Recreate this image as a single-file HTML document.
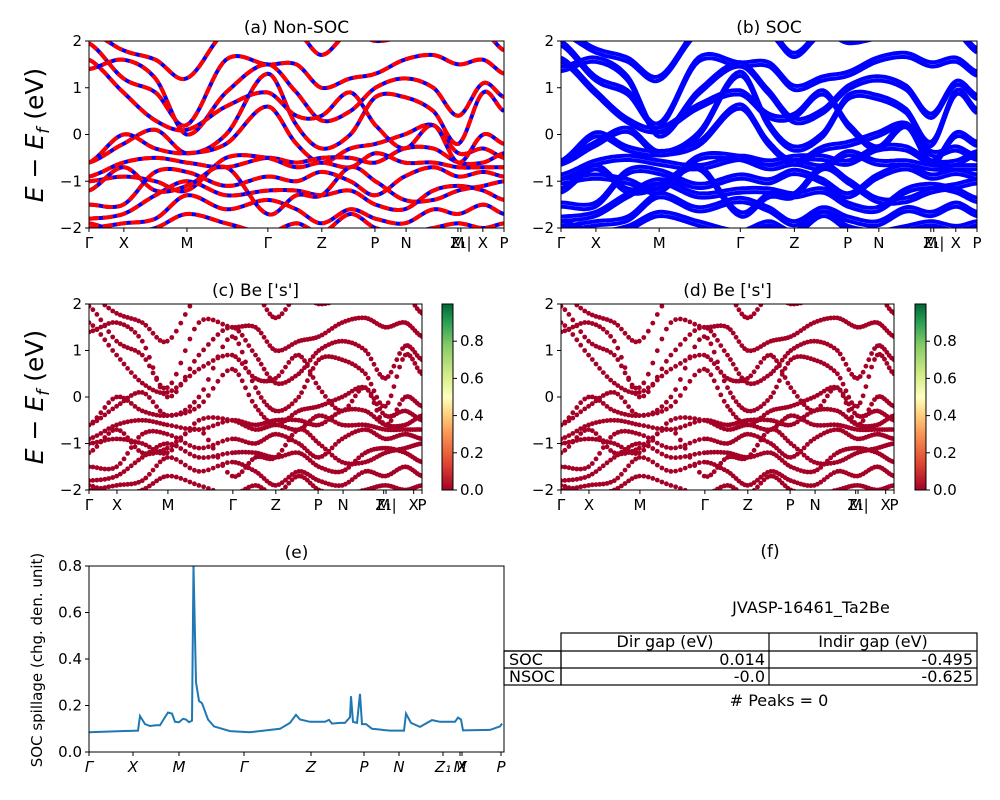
<!DOCTYPE html>
<html><head><meta charset="utf-8">
<style>
body{margin:0;background:#fff;}
svg{display:block;font-family:"DejaVu Sans","Liberation Sans",sans-serif;}
</style></head>
<body>
<svg id="fig" width="1000" height="800" viewBox="0 0 1000 800" xmlns="http://www.w3.org/2000/svg">
<defs>
<linearGradient id="rdylgn" x1="0" y1="1" x2="0" y2="0">
<stop offset="0" stop-color="#a50026"/><stop offset="0.15" stop-color="#e04a33"/>
<stop offset="0.3" stop-color="#f99455"/><stop offset="0.42" stop-color="#fed884"/>
<stop offset="0.5" stop-color="#ffffbf"/><stop offset="0.62" stop-color="#d3ec87"/>
<stop offset="0.78" stop-color="#84ca66"/><stop offset="0.9" stop-color="#2aa054"/>
<stop offset="1" stop-color="#006837"/>
</linearGradient>
<clipPath id="ca"><rect x="89" y="41" width="415" height="187"/></clipPath>
<clipPath id="cb"><rect x="561" y="41" width="416" height="187"/></clipPath>
<clipPath id="cc"><rect x="89" y="304" width="333" height="186"/></clipPath>
<clipPath id="cd"><rect x="561" y="304" width="333" height="186"/></clipPath>
</defs>
</svg>
<script>
// ---- data ----
const kGrid = [0,0.083,0.16,0.235,0.33,0.43,0.5,0.56,0.63,0.69,0.76,0.83,0.89,0.95,1.0];
const band1 = [1.95,1.2,0.9,0.2,1.6,1.5,1.5,1.0,1.2,1.3,1.6,1.7,1.5,1.6,1.3];
const band2 = [1.4,1.6,1.2,0.0,0.9,1.5,0.9,0.3,0.5,1.0,1.2,1.0,0.4,1.1,0.8];
const band3 = [-0.6,-0.2,0.1,-0.4,0.0,1.3,0.2,-0.3,0.0,0.8,0.8,0.5,-0.2,0.9,0.5];
const band4 = [-0.6,0.0,-0.3,-0.4,-0.2,0.6,-0.2,-0.6,-0.3,-0.2,0.0,0.2,-0.4,-0.3,-0.5];
const band5 = [-0.9,-0.6,-0.5,-0.6,-0.7,-0.5,-0.6,-0.5,-0.5,-0.6,-0.3,-0.3,-0.6,-0.6,-0.4];
const band6 = [-1.0,-0.9,-1.0,-1.2,-0.5,-0.5,-0.7,-0.6,-0.7,-0.4,-0.6,-0.6,-0.7,-0.7,-0.7];
const band7 = [-1.5,-1.5,-0.8,-0.8,-1.1,-0.9,-1.0,-0.8,-1.0,-1.3,-0.9,-0.7,-0.9,-0.8,-0.9];
const band8 = [-1.8,-1.7,-1.3,-1.0,-1.3,-1.2,-1.2,-1.3,-1.2,-1.5,-1.6,-1.2,-1.1,-1.2,-1.4];
const band9 = [-2.0,-1.9,-1.8,-1.3,-1.6,-1.4,-1.6,-1.9,-1.6,-1.8,-1.9,-1.6,-1.7,-1.5,-1.7];
const band10 = [-1.2,-0.7,-1.2,-1.1,-0.7,-1.7,-1.3,-1.3,-0.7,-1.0,-1.4,-1.4,-1.2,-1.1,-1.0];
const band11 = [1.6,0.9,0.3,0.1,0.6,0.9,0.4,0.4,0.9,0.2,-0.3,0.2,-0.6,0.0,-0.2];
const band12 = [-1.9,-2.1,-2.0,-1.7,-1.9,-2.1,-1.9,-2.1,-1.7,-2.0,-2.1,-2.0,-1.9,-2.0,-1.9];
const band13 = [2.2,1.8,1.6,1.2,2.2,2.1,2.2,1.7,2.2,2.0,2.1,2.2,2.1,2.2,1.8];
const bands = [band1,band2,band3,band4,band5,band6,band7,band8,band9,band10,band11,band12,band13];
const bandTicksTop = [0,0.084,0.236,0.431,0.561,0.689,0.764,0.889,0.896,0.949,1];
const bandTickLabelsTop = ["Γ","X","M","Γ","Z","P","N","M","Z₁|","X","P"];
const bandTicksMid = [0,0.084,0.237,0.432,0.561,0.688,0.763,0.885,0.892,0.975,1];
const bandTickLabelsMid = ["Γ","X","M","Γ","Z","P","N","M","Z₁|","X","P"];
const eTicks = [-2,-1,0,1,2];
const cbarTicks = [0.0,0.2,0.4,0.6,0.8];
const spillK = [0,49,51,56,61,67,71,76,79,83,86,90,94,97,100,103,104.5,107,110,113,119,125,141,161,191,201,207,211,221,236,240,243,251,256,261,262,264,268,271,273,277,283,301,315,317,322,331,343,351,366,369,372,374,401,411,413];
const spillVal = [0.085,0.092,0.155,0.12,0.112,0.115,0.115,0.15,0.17,0.165,0.13,0.128,0.143,0.14,0.128,0.135,0.8,0.3,0.22,0.21,0.14,0.11,0.09,0.085,0.1,0.125,0.16,0.14,0.13,0.13,0.138,0.122,0.125,0.125,0.15,0.24,0.13,0.125,0.25,0.12,0.12,0.1,0.092,0.092,0.165,0.125,0.108,0.137,0.13,0.13,0.148,0.14,0.093,0.095,0.11,0.122];
const spillTicks = [0,0.2,0.4,0.6,0.8];
const spillKTicks = [0,44,90,155,222,275,310,354,371,373,412];
const spillKLabels = ["Γ","X","M","Γ","Z","P","N","Z₁","M","X","P"];

// ---- helpers ----
const NS="http://www.w3.org/2000/svg";
const fig=document.getElementById('fig');
function mk(tag,attrs,parent){const e=document.createElementNS(NS,tag);for(const k in attrs)e.setAttribute(k,attrs[k]);(parent||fig).appendChild(e);return e;}
function txt(s,x,y,size,anchor,parent,extra){const t=mk('text',Object.assign({x:x,y:y,'font-size':size,'text-anchor':anchor||'middle',fill:'#000'},extra||{}),parent);t.textContent=s;return t;}
function sample(vals,n){const out=[];const m=kGrid.length;
 for(let i=0;i<m-1;i++){const p0=vals[Math.max(i-1,0)],p1=vals[i],p2=vals[i+1],p3=vals[Math.min(i+2,m-1)];
  const k0=kGrid[i],k1=kGrid[i+1];
  for(let j=0;j<n;j++){const t=j/n;const t2=t*t,t3=t2*t;
   const v=0.5*((2*p1)+(-p0+p2)*t+(2*p0-5*p1+4*p2-p3)*t2+(-p0+3*p1-3*p2+p3)*t3);
   out.push([k0+(k1-k0)*t,v]);}}
 out.push([1,vals[m-1]]);return out;}

function bandPanel(P){
 const g=mk('g',{},fig);
 
 
 const sx=k=>P.x+k*P.w, sy=e=>P.y+(2-e)/4*P.h;
 const inner=mk('g',{'clip-path':'url(#'+P.clip+')'},g);
 bands.forEach((b,bi)=>{
  if(P.mode==='dots'){
   const pts=sample(b,7);
   pts.forEach(p=>{const c=mk('circle',{cx:sx(p[0]).toFixed(1),cy:sy(p[1]).toFixed(1),r:2.4,fill:'#a50026'},inner);
    
    });
  } else {
   const offs=P.mode==='soc'?[0.045,-0.045]:[0];
   offs.forEach(o=>{
    const pts=sample(b.map(v=>v+o),12);
    const d='M'+pts.map(p=>sx(p[0]).toFixed(1)+','+sy(p[1]).toFixed(1)).join('L');
    const l=mk('path',{d:d,fill:'none',stroke:'#0000ff','stroke-width':4},inner);
    
    
    if(P.mode==='nsoc'){const r=mk('path',{d:d,fill:'none',stroke:'#ff0000','stroke-width':4,'stroke-dasharray':'10 4'},inner);
     
     }
   });
  }
 });
 mk('rect',{x:P.x,y:P.y,width:P.w,height:P.h,fill:'none',stroke:'#000','stroke-width':1},g);
 eTicks.forEach(e=>{const y=sy(e);mk('line',{x1:P.x-4,x2:P.x,y1:y,y2:y,stroke:'#000'},g);
  const t=txt(e===0?'0':(e<0?'−'+(-e):''+e),P.x-7,y+5,15,'end',g);
  
  });
 P.ticks.forEach((k,i)=>{const x=sx(k);mk('line',{x1:x,x2:x,y1:P.y+P.h,y2:P.y+P.h+4,stroke:'#000'},g);
  const t=txt(P.labels[i],x,P.y+P.h+20,15,'middle',g);
  
  });
 const tt=txt(P.title,P.x+P.w/2,P.y-8,17,'middle',g);
 
 
}
bandPanel({name:'panel-a-nonsoc',x:89,y:41,w:415,h:187,clip:'ca',mode:'nsoc',ticks:bandTicksTop,labels:bandTickLabelsTop,title:'(a) Non-SOC'});
bandPanel({name:'panel-b-soc',x:561,y:41,w:416,h:187,clip:'cb',mode:'soc',ticks:bandTicksTop,labels:bandTickLabelsTop,title:'(b) SOC'});
bandPanel({name:'panel-c-be-s',x:89,y:304,w:333,h:186,clip:'cc',mode:'dots',ticks:bandTicksMid,labels:bandTickLabelsMid,title:"(c)  Be ['s']"});
bandPanel({name:'panel-d-be-s',x:561,y:304,w:333,h:186,clip:'cd',mode:'dots',ticks:bandTicksMid,labels:bandTickLabelsMid,title:"(d) Be ['s']"});

function colorbar(x,name){
 const g=mk('g',{},fig);
 
 
 mk('rect',{x:x,y:304,width:11,height:186,fill:'url(#rdylgn)',stroke:'#000','stroke-width':1},g);
 cbarTicks.forEach(v=>{const y=490-v*186;mk('line',{x1:x+11,x2:x+15,y1:y,y2:y,stroke:'#000'},g);
  const t=txt(v.toFixed(1),x+18,y+5,15,'start',g);
  
  });
}
colorbar(442,'colorbar-c');
colorbar(915,'colorbar-d');

[[135,'y-axis-title-top'],[397,'y-axis-title-mid']].forEach(a=>{
 const t=mk('text',{x:0,y:0,'font-size':25,'text-anchor':'middle',transform:'translate(43,'+a[0]+') rotate(-90)'});
 
 
 t.innerHTML='<tspan font-style="italic">E</tspan> − <tspan font-style="italic">E</tspan><tspan font-style="italic" font-size="17" dy="6">f</tspan><tspan dy="-6"> (eV)</tspan>';
});

(function(){
 const g=mk('g',{},fig);
 
 
 const X0=89,Y0=566,W=415,H=186;
 const sx=k=>X0+k, sy=v=>Y0+H-v/0.8*H;
 const d='M'+spillK.map((k,i)=>sx(k).toFixed(1)+','+sy(spillVal[i]).toFixed(1)).join('L');
 const l=mk('path',{d:d,fill:'none',stroke:'#1f77b4','stroke-width':2},g);
 
 
 mk('rect',{x:X0,y:Y0,width:W,height:H,fill:'none',stroke:'#000'},g);
 spillTicks.forEach(v=>{const y=sy(v);mk('line',{x1:X0-4,x2:X0,y1:y,y2:y,stroke:'#000'},g);
  const t=txt(v.toFixed(1),X0-7,y+5,15,'end',g);
  
  });
 spillKTicks.forEach((k,i)=>{const x=sx(k);mk('line',{x1:x,x2:x,y1:Y0+H,y2:Y0+H+4,stroke:'#000'},g);
  const t=txt(spillKLabels[i],x,Y0+H+20,15,'middle',g,{'font-style':'italic'});
  
  });
 const tt=txt('(e)',X0+W/2,Y0-8,17,'middle',g);
 
 
 const yl=mk('text',{x:0,y:0,'font-size':15,'text-anchor':'middle',transform:'translate(42,660) rotate(-90)'},g);
 yl.textContent='SOC spillage (chg. den. unit)';
 
 
})();

(function(){
 const g=mk('g',{},fig);
 
 
 const t1=txt('(f)',770,557,17,'middle',g);
 
 
 const t2=txt('JVASP-16461_Ta2Be',811,613,16,'middle',g);
 
 
 const s={fill:'none',stroke:'#000','stroke-width':1.2};
 mk('rect',Object.assign({x:561,y:633,width:416,height:52},s),g);
 mk('rect',Object.assign({x:504,y:651,width:57,height:34},s),g);
 mk('line',Object.assign({x1:769,x2:769,y1:633,y2:685},s),g);
 mk('line',Object.assign({x1:504,x2:977,y1:651,y2:651},s),g);
 mk('line',Object.assign({x1:504,x2:977,y1:668,y2:668},s),g);
 const cells=[['Dir gap (eV)',665,647,'middle'],['Indir gap (eV)',873,647,'middle'],['SOC',509,665,'start'],['NSOC',509,682,'start'],
  ['0.014',765,665,'end'],['-0.495',973,665,'end'],['-0.0',765,682,'end'],['-0.625',973,682,'end']];
 cells.forEach(c=>{const t=txt(c[0],c[1],c[2],16,c[3],g);
  
  });
 const t3=txt('# Peaks = 0',779,706,16,'middle',g);
 
 
})();
</script>
</body></html>
